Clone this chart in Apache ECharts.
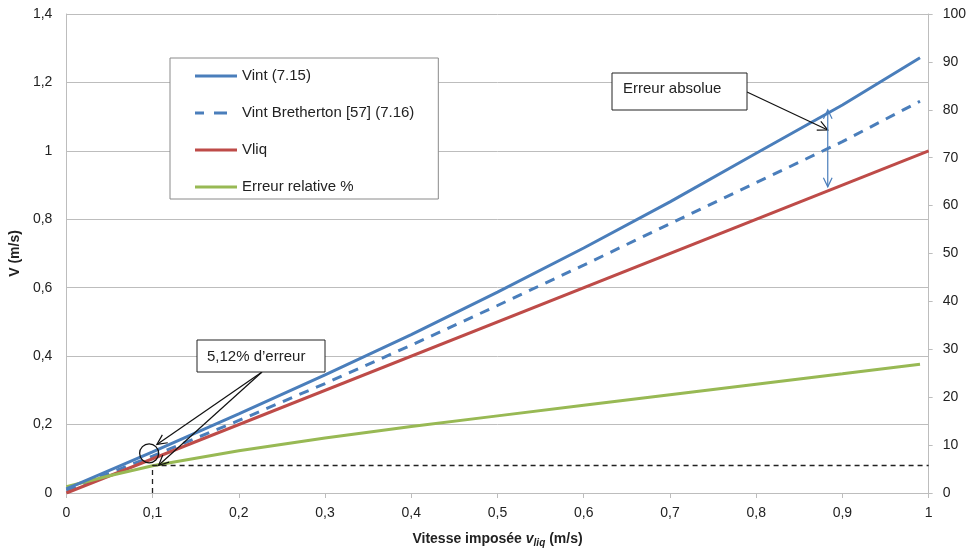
<!DOCTYPE html>
<html>
<head>
<meta charset="utf-8">
<script src="https://cdn.jsdelivr.net/npm/echarts@6/dist/echarts.min.js"></script>
<style>
html,body{margin:0;padding:0;background:#fff;overflow:hidden;}
#chart{width:969px;height:553px;}
</style>
</head>
<body>
<div id="chart"></div>
<script>
// ---- data ----
const xVals      = [0, 0.1, 0.2, 0.3, 0.4, 0.5, 0.6, 0.7, 0.8, 0.9, 0.99];
const vint       = [0.012, 0.12, 0.231, 0.345, 0.463, 0.587, 0.716, 0.851, 0.993, 1.134, 1.272];
const vintBreth  = [0.008, 0.108, 0.212, 0.32, 0.432, 0.548, 0.666, 0.787, 0.907, 1.027, 1.145];
const vliqX      = [0, 1];
const vliq       = [0, 1];
const errX       = [0, 0.05, 0.1, 0.2, 0.3, 0.4, 0.5, 0.6, 0.7, 0.8, 0.9, 0.99];
const errRel     = [1.3, 3.6, 5.7, 8.8, 11.5, 13.9, 16.1, 18.3, 20.5, 22.7, 24.9, 26.9];
const seriesNames = ['Vint (7.15)', 'Vint Bretherton [57] (7.16)', 'Vliq', 'Erreur relative %'];
// annotation anchors (data coords)
const errPointX = 0.1, errPointY = 5.8;        // 5,12 % point (right axis)
const circleAt  = [0.096, 0.116];
const absArrowX = 0.883, absTop = 1.12, absBottom = 0.895;

const FONT = 'Liberation Sans';
const zip = (xs, ys) => xs.map((x, i) => [x, ys[i]]);
const fmt = v => (Math.round(v * 10) / 10).toString().replace('.', ',');

const solidIcon = 'path://M0,0h42v3h-42z';
const dashIcon  = 'path://M0,0h9v3h-9z M19,0h13v3h-13z M42,0h0v3h0z';

const chart = echarts.init(document.getElementById('chart'), null, { width: 969, height: 553 });
const axisGray = '#bdbdbd';
const option = {
  animation: false,
  backgroundColor: '#fff',
  textStyle: { fontFamily: FONT },
  grid: { left: 66, top: 14, width: 863, height: 483, containLabel: false },
  legend: {
    orient: 'vertical', left: 170, top: 58,
    padding: [10, 24, 4, 25],
    itemGap: 21, itemWidth: 42, itemHeight: 3,
    backgroundColor: '#fff', borderColor: '#8a8a8a', borderWidth: 1,
    textStyle: { fontFamily: FONT, fontSize: 15, color: '#222', lineHeight: 16 },
    data: [
      { name: seriesNames[0], icon: solidIcon },
      { name: seriesNames[1], icon: dashIcon },
      { name: seriesNames[2], icon: solidIcon },
      { name: seriesNames[3], icon: solidIcon }
    ]
  },
  xAxis: {
    type: 'value', min: 0, max: 1, interval: 0.1,
    axisLine: { show: true, lineStyle: { color: axisGray, width: 1 } },
    axisTick: { show: true, length: 5, lineStyle: { color: axisGray } },
    axisLabel: { formatter: fmt, fontSize: 14, color: '#222', margin: 13, fontFamily: FONT },
    splitLine: { show: false },
    name: '{b|Vitesse imposée }{v|v}{s|liq}{b| (m/s)}',
    nameLocation: 'middle', nameGap: 38,
    nameTextStyle: {
      rich: {
        b: { fontSize: 14, fontWeight: 'bold', color: '#222', fontFamily: FONT },
        v: { fontSize: 14, fontWeight: 'bold', fontStyle: 'italic', color: '#222', fontFamily: FONT },
        s: { fontSize: 10, fontWeight: 'bold', fontStyle: 'italic', color: '#222', fontFamily: FONT, padding: [7, 0, 0, 0] }
      }
    }
  },
  yAxis: [{
    type: 'value', min: 0, max: 1.4, interval: 0.2,
    axisLine: { show: true, lineStyle: { color: axisGray, width: 1 } },
    axisTick: { show: false },
    axisLabel: { formatter: fmt, fontSize: 14, color: '#222', margin: 14, fontFamily: FONT },
    splitLine: { show: true, lineStyle: { color: axisGray, width: 1 } },
    name: 'V (m/s)', nameLocation: 'middle', nameGap: 40, nameRotate: 90,
    nameTextStyle: { fontSize: 14, fontWeight: 'bold', color: '#222', fontFamily: FONT }
  }, {
    type: 'value', min: 0, max: 100, interval: 10, position: 'right',
    axisLine: { show: true, lineStyle: { color: axisGray, width: 1 } },
    axisTick: { show: true, length: 4, lineStyle: { color: axisGray } },
    axisLabel: { fontSize: 14, color: '#222', margin: 14, fontFamily: FONT },
    splitLine: { show: false }
  }],
  series: [
    { name: seriesNames[0], type: 'line', data: zip(xVals, vint), symbol: 'none', showSymbol: false,
      lineStyle: { color: '#4a7ebb', width: 3 }, itemStyle: { color: '#4a7ebb' }, z: 4 },
    { name: seriesNames[1], type: 'line', data: zip(xVals, vintBreth), symbol: 'none', showSymbol: false,
      lineStyle: { color: '#4a7ebb', width: 3, type: [10, 8] }, itemStyle: { color: '#4a7ebb' }, z: 3 },
    { name: seriesNames[2], type: 'line', data: zip(vliqX, vliq), symbol: 'none', showSymbol: false,
      lineStyle: { color: '#be4b48', width: 3 }, itemStyle: { color: '#be4b48' }, z: 3 },
    { name: seriesNames[3], type: 'line', yAxisIndex: 1, data: zip(errX, errRel), symbol: 'none', showSymbol: false,
      lineStyle: { color: '#98b954', width: 3 }, itemStyle: { color: '#98b954' }, z: 3,
      markLine: {
        silent: true, symbol: ['none', 'none'],
        lineStyle: { color: '#222', width: 1.3, type: [5, 4] },
        label: { show: false },
        data: [
          [{ coord: [errPointX, errPointY] }, { coord: [1, errPointY] }],
          [{ coord: [errPointX, 0] }, { coord: [errPointX, errPointY] }]
        ]
      }
    }
  ]
};
chart.setOption(option);

// ---- annotations ----
const P = (x, y) => chart.convertToPixel({ xAxisIndex: 0, yAxisIndex: 0 }, [x, y]);
const PR = (x, y) => chart.convertToPixel({ xAxisIndex: 0, yAxisIndex: 1 }, [x, y]);
function arrow(from, to, color, width, head) {
  const dx = to[0] - from[0], dy = to[1] - from[1];
  const a = Math.atan2(dy, dx), h = head || 10, sp = 0.45;
  const p1 = [to[0] - h * Math.cos(a - sp), to[1] - h * Math.sin(a - sp)];
  const p2 = [to[0] - h * Math.cos(a + sp), to[1] - h * Math.sin(a + sp)];
  return [
    { type: 'line', z: 10, shape: { x1: from[0], y1: from[1], x2: to[0], y2: to[1] }, style: { stroke: color, lineWidth: width } },
    { type: 'polyline', z: 10, shape: { points: [p1, to, p2] }, style: { stroke: color, lineWidth: width, fill: null } }
  ];
}
function box(x, y, w, h, text, tx, ty) {
  return [
    { type: 'rect', z: 11, shape: { x: x, y: y, width: w, height: h }, style: { fill: '#fff', stroke: '#222', lineWidth: 1 } },
    { type: 'text', z: 12, style: { x: tx, y: ty, text: text, font: '15px "Liberation Sans"', fill: '#222', textVerticalAlign: 'middle' } }
  ];
}
const circ = P(circleAt[0], circleAt[1]);
const tip1 = P(0.105, 0.142);
const tip2 = PR(0.107, errPointY);
const absTip = P(absArrowX, 1.061);
const aTop = P(absArrowX, absTop), aBot = P(absArrowX, absBottom);
const mid = [(aTop[0] + aBot[0]) / 2, (aTop[1] + aBot[1]) / 2];
const elems = [].concat(
  [{ type: 'circle', z: 10, shape: { cx: circ[0], cy: circ[1], r: 9.5 }, style: { fill: null, stroke: '#111', lineWidth: 1.3 } }],
  arrow([262, 372], tip1, '#111', 1.2, 11),
  arrow([262, 372], tip2, '#111', 1.2, 11),
  arrow([747, 92], absTip, '#111', 1.2, 11),
  arrow(mid, aTop, '#4a7ebb', 1.2, 10),
  arrow(mid, aBot, '#4a7ebb', 1.2, 10),
  box(197, 340, 128, 32, '5,12% d\u2019erreur', 207, 357),
  box(612, 73, 135, 37, 'Erreur absolue', 623, 89)
);
chart.setOption({ graphic: { elements: elems } });
</script>
</body>
</html>
